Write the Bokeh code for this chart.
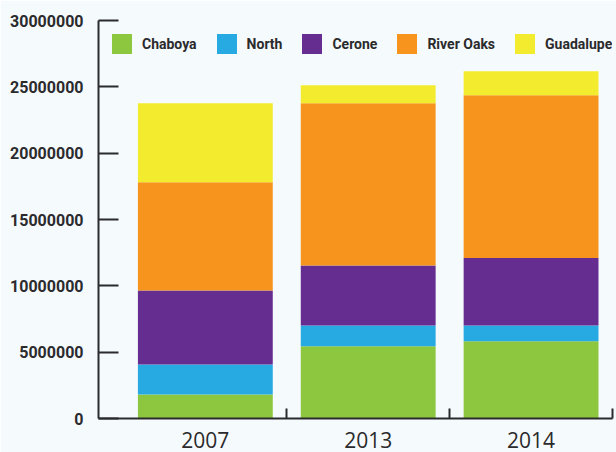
from bokeh.plotting import figure
from bokeh.models import Range1d, FixedTicker, Legend
from bokeh.embed import file_html
from bokeh.resources import INLINE

years = ["2007", "2013", "2014"]
series = ["Chaboya", "North", "Cerone", "River Oaks", "Guadalupe"]
chaboya = [1810000, 5450000, 5830000]
north = [2260000, 1560000, 1180000]
cerone = [5580000, 4530000, 5080000]
river_oaks = [8150000, 12220000, 12280000]
guadalupe = [5960000, 1360000, 1810000]
colors = ["#8DC63F", "#27AAE1", "#662D91", "#F7941D", "#F3EC2E"]
y_ticks = [0, 5000000, 10000000, 15000000, 20000000, 25000000, 30000000]

xs = list(range(len(years)))
data = dict(x=xs, Chaboya=chaboya, North=north, Cerone=cerone,
            **{"River Oaks": river_oaks}, Guadalupe=guadalupe)

bg = "#F5FAFD"
ink = "#2B2A2C"

p = figure(width=616, height=452, output_backend="svg", toolbar_location=None,
           x_range=Range1d(-0.656, 2.5), y_range=Range1d(0, 30000000),
           min_border_left=98, min_border_right=4, min_border_top=20,
           min_border_bottom=34)
p.background_fill_color = bg
p.border_fill_color = bg
p.outline_line_color = None
p.xgrid.visible = False
p.ygrid.visible = False

rs = p.vbar_stack(series, x="x", width=0.828, color=colors, line_color=None,
                  source=data)

legend = Legend(items=[(s, [r]) for s, r in zip(series, rs)],
                location="top_left", orientation="horizontal")
legend.background_fill_alpha = 0
legend.border_line_color = None
legend.margin = 11
legend.padding = 13
legend.glyph_width = 25
legend.glyph_height = 25
legend.label_standoff = 8
legend.spacing = 17
legend.label_text_font = "Roboto"
legend.label_text_font_style = "bold"
legend.label_text_font_size = "14px"
legend.label_text_color = ink
p.add_layout(legend)

# x axis
p.xaxis.ticker = FixedTicker(ticks=xs, minor_ticks=[0.5, 1.5, 2.499])
p.xaxis.major_label_overrides = {i: y for i, y in enumerate(years)}
p.xaxis.major_tick_in = 0
p.xaxis.major_tick_out = 0
p.xaxis.minor_tick_in = 10
p.xaxis.minor_tick_out = 0
p.xaxis.minor_tick_line_width = 2
p.xaxis.minor_tick_line_color = ink
p.xaxis.axis_line_width = 2
p.xaxis.axis_line_color = ink
p.xaxis.major_label_text_font = "Open Sans"
p.xaxis.major_label_text_font_size = "21px"
p.xaxis.major_label_text_color = ink
p.xaxis.major_label_standoff = 13

# y axis
p.yaxis.ticker = FixedTicker(ticks=y_ticks, minor_ticks=[])
p.yaxis.formatter.use_scientific = False
p.yaxis.major_tick_in = 20
p.yaxis.major_tick_out = 0
p.yaxis.major_tick_line_width = 2
p.yaxis.major_tick_line_color = ink
p.yaxis.axis_line_width = 2
p.yaxis.axis_line_color = ink
p.yaxis.major_label_text_font = "Roboto"
p.yaxis.major_label_text_font_style = "bold"
p.yaxis.major_label_text_font_size = "16px"
p.yaxis.major_label_text_color = ink
p.yaxis.major_label_standoff = 15

open("out.html", "w").write(file_html(p, INLINE))
